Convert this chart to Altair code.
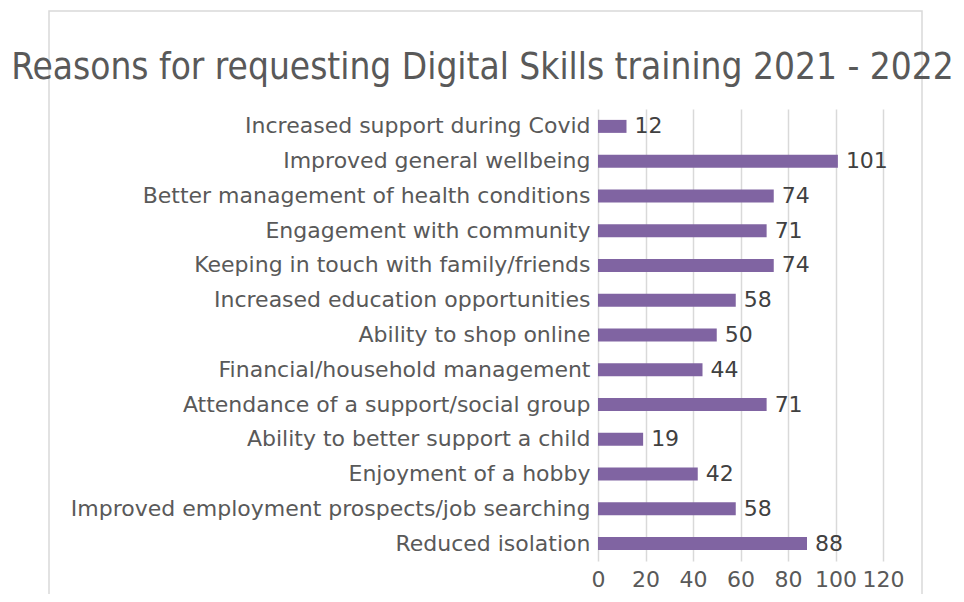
import altair as alt
import pandas as pd

categories = [
    "Increased support during Covid",
    "Improved general wellbeing",
    "Better management of health conditions",
    "Engagement with community",
    "Keeping in touch with family/friends",
    "Increased education opportunities",
    "Ability to shop online",
    "Financial/household management",
    "Attendance of a support/social group",
    "Ability to better support a child",
    "Enjoyment of a hobby",
    "Improved employment prospects/job searching",
    "Reduced isolation",
]
values = [12, 101, 74, 71, 74, 58, 50, 44, 71, 19, 42, 58, 88]
x_ticks = [0, 20, 40, 60, 80, 100, 120]

df = pd.DataFrame({"reason": categories, "count": values})

FONT = "DejaVu Sans"
LABEL = "#595959"
GRID = "#D9D9D9"
BAR = "#8064A2"

y_enc = alt.Y(
    "reason:N",
    sort=categories,
    title=None,
    scale=alt.Scale(paddingInner=0, paddingOuter=0),
    axis=alt.Axis(
        labelFont=FONT, labelFontSize=22, labelColor=LABEL, labelPadding=8,
        ticks=False, domain=False, grid=False, labelLimit=700,
    ),
)
x_enc = alt.X(
    "count:Q",
    title=None,
    scale=alt.Scale(domain=[0, 120], nice=False),
    axis=alt.Axis(
        values=x_ticks, labelFont=FONT, labelFontSize=22, labelColor=LABEL,
        labelPadding=8, ticks=False, domain=False, grid=True,
        gridColor=GRID, gridWidth=1.5, labelFlush=False,
    ),
)

bars = alt.Chart(df).mark_bar(color=BAR, size=13).encode(x=x_enc, y=y_enc)

labels = alt.Chart(df).mark_text(
    align="left", baseline="middle", dx=8, font=FONT, fontSize=22, color="#404040"
).encode(x="count:Q", y=alt.Y("reason:N", sort=categories), text="count:Q")

frame = alt.Chart(pd.DataFrame({"a": [0]})).mark_rect(
    fill=None, stroke=GRID, strokeWidth=1.5, clip=False
).encode(
    x=alt.value(-549), x2=alt.value(324), y=alt.value(-98), y2=alt.value(600)
)

chart = alt.layer(frame, bars, labels).properties(
    width=285,
    height=452,
    title=alt.TitleParams(
        "Reasons for requesting Digital Skills training 2021 - 2022",
        font="DejaVu Sans Condensed", fontSize=36.7, fontWeight="normal", color=LABEL,
        anchor="middle", frame="group", dx=-258, offset=-76,
    ),
    autosize=alt.AutoSizeParams(type="none"),
    padding={"left": 590, "top": 101, "right": 73, "bottom": 33},
).configure_view(stroke=None)

chart.save("out.html", embed_options={"renderer": "svg", "actions": False})
